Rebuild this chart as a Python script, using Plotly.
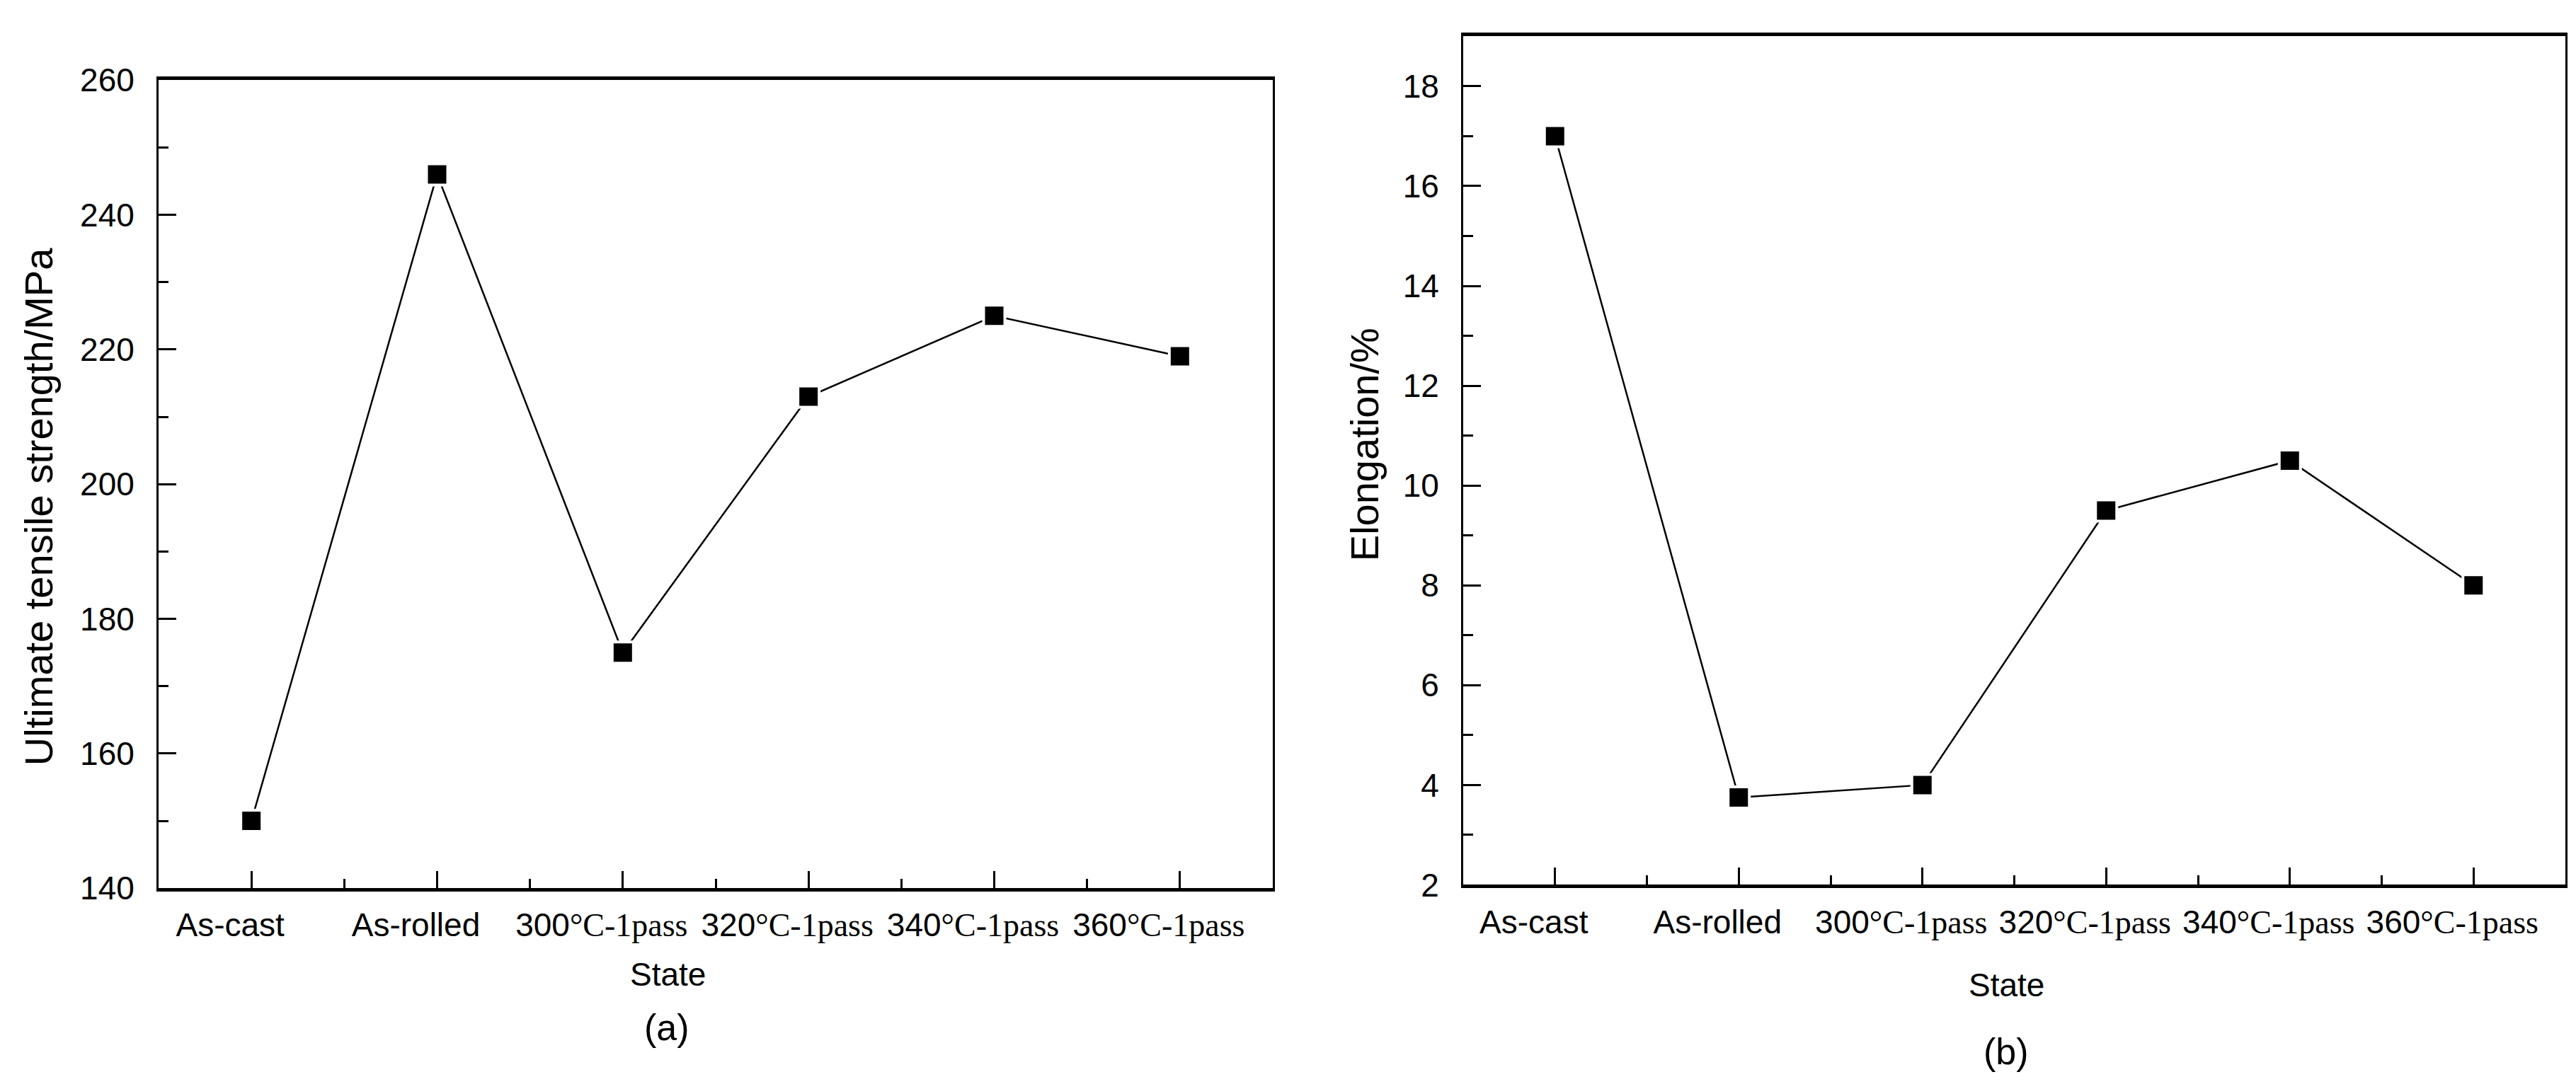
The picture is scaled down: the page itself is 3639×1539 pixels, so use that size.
import plotly.graph_objects as go

# === DATA ===
states = ["As-cast", "As-rolled", "300°C-1pass", "320°C-1pass", "340°C-1pass", "360°C-1pass"]
uts_mpa = [150, 246, 175, 213, 225, 219]
elongation_pct = [17.0, 3.75, 4.0, 9.5, 10.5, 8.0]

# === CONFIG ===
W, H = 3639, 1539
sans = "Liberation Sans, Arial, sans-serif"
serif = "Liberation Serif, Times New Roman, serif"


def tick_label(s):
    # Origin-style mix: digits in sans, "°C-1pass" in serif
    if "°C" in s:
        head, tail = s.split("°C", 1)
        return f"{head}<span style='font-family:{serif}'>°C{tail}</span>"
    return s


def px_x(px):
    return px / W


def px_y(py):
    return 1 - py / H


x_idx = list(range(len(states)))
tick_text = [tick_label(s) for s in states]

fig = go.Figure()

for y_vals, xa, ya in [(uts_mpa, "x", "y"), (elongation_pct, "x2", "y2")]:
    fig.add_trace(go.Scatter(
        x=x_idx,
        y=y_vals,
        xaxis=xa,
        yaxis=ya,
        mode="lines+markers",
        line=dict(color="black", width=2.5),
        marker=dict(symbol="square", size=30, color="black",
                    line=dict(color="white", width=4)),
        showlegend=False,
        cliponaxis=False,
    ))

xaxis_common = dict(
    range=[-0.5, 5.5],
    tickmode="array",
    tickvals=x_idx,
    ticktext=tick_text,
    ticks="inside",
    ticklen=24,
    tickwidth=3,
    tickcolor="black",
    ticklabelstandoff=8,
    ticklabelshift=-30,
    minor=dict(tickmode="linear", tick0=0.5, dtick=1, ticks="inside",
               ticklen=13, tickwidth=3, tickcolor="black"),
    showline=True,
    linecolor="black",
    linewidth=5,
    mirror=True,
    showgrid=False,
    zeroline=False,
    tickfont=dict(family=sans, size=46, color="black"),
)

yaxis_common = dict(
    ticks="inside",
    ticklen=25,
    tickwidth=3,
    tickcolor="black",
    ticklabelstandoff=22,
    showline=True,
    linecolor="black",
    linewidth=3,
    mirror=True,
    showgrid=False,
    zeroline=False,
    tickfont=dict(family=sans, size=46, color="black"),
)

fig.update_layout(
    width=W,
    height=H,
    margin=dict(l=0, r=0, t=0, b=0),
    paper_bgcolor="white",
    plot_bgcolor="white",
    xaxis=dict(xaxis_common, domain=[px_x(216), px_x(1790)], anchor="y"),
    yaxis=dict(yaxis_common, domain=[px_y(1264), px_y(82)], anchor="x",
               range=[140, 260], tick0=140, dtick=20,
               minor=dict(dtick=10, ticks="inside", ticklen=14, tickwidth=3, tickcolor="black")),
    xaxis2=dict(xaxis_common, domain=[px_x(2059), px_x(3616)], anchor="y2"),
    yaxis2=dict(yaxis_common, domain=[px_y(1259), px_y(18)], anchor="x2",
                range=[2, 19], tick0=2, dtick=2,
                minor=dict(dtick=1, ticks="inside", ticklen=14, tickwidth=3, tickcolor="black")),
)

# === TITLES / PANEL LABELS ===
text_font = dict(family=sans, size=46, color="black")
annots = [
    dict(text="Ultimate tensile strength/MPa", x=px_x(46), y=px_y(706), textangle=-90,
         font=dict(family=sans, size=56, color="black")),
    dict(text="Elongation/%", x=px_x(1919), y=px_y(615), textangle=-90,
         font=dict(family=sans, size=56, color="black")),
    dict(text="State", x=px_x(936), y=px_y(1390), font=text_font),
    dict(text="(a)", x=px_x(934), y=px_y(1468), font=dict(family=sans, size=52, color="black")),
    dict(text="State", x=px_x(2826), y=px_y(1406), font=text_font),
    dict(text="(b)", x=px_x(2826), y=px_y(1503), font=dict(family=sans, size=52, color="black")),
]
for a in annots:
    fig.add_annotation(xref="paper", yref="paper", xanchor="center", yanchor="middle",
                       showarrow=False, **a)

fig.write_html("out.html")
